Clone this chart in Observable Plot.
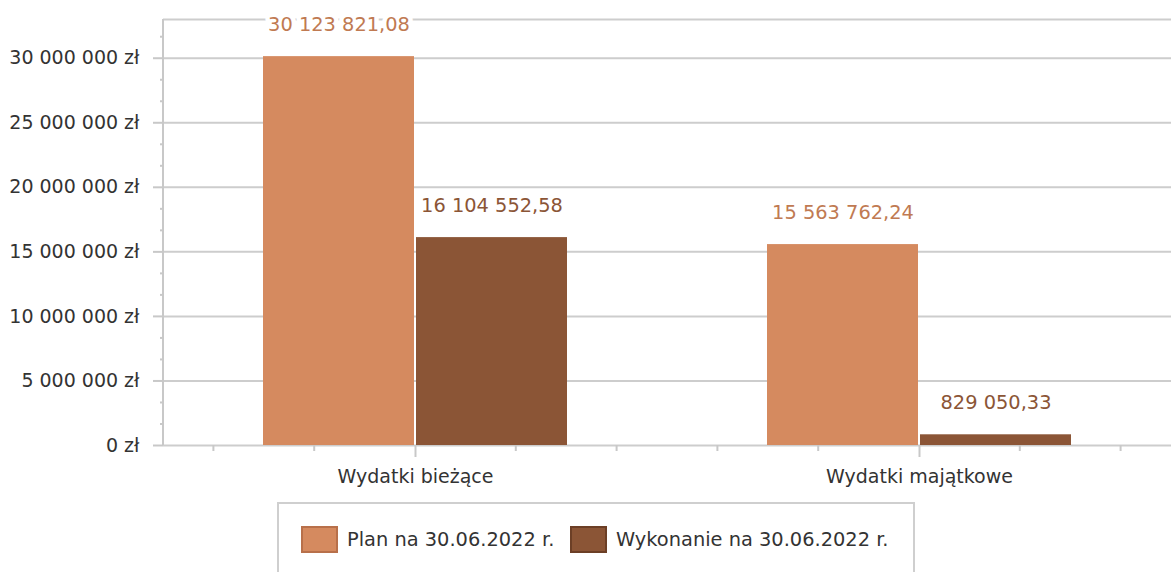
<!DOCTYPE html>
<html>
<head>
<meta charset="utf-8">
<script src="https://cdn.jsdelivr.net/npm/d3@7"></script>
<script src="https://cdn.jsdelivr.net/npm/@observablehq/plot@0.6"></script>
<style>
  html, body { margin: 0; padding: 0; background: #fff; }
  body { width: 1171px; height: 572px; overflow: hidden; position: relative; font-family: "DejaVu Sans", sans-serif; }
  #legend { position: absolute; left: 277px; top: 502px; width: 638px; height: 90px; border: 2px solid #cfcfcf; box-sizing: border-box; }
  .item { position: absolute; top: 22px; display: flex; align-items: center; font-size: 19.4px; color: #333; white-space: nowrap; }
  .sw { width: 33px; height: 23px; border: 2px solid; margin-right: 9px; }
</style>
</head>
<body>
<div id="chart"></div>
<div id="legend"></div>
<script>
const groups = ["Wydatki bieżące", "Wydatki majątkowe"];
const series = ["Plan na 30.06.2022 r.", "Wykonanie na 30.06.2022 r."];
const planValues = [30123821.08, 15563762.24];
const executionValues = [16104552.58, 829050.33];
const yTicks = [0, 5000000, 10000000, 15000000, 20000000, 25000000, 30000000];
const yMax = 33000000;

const barColors = ["#d58a5f", "#8b5536"];
const labelColors = ["#c07a52", "#8b5536"];
const swatchBorders = ["#b8704a", "#6c3f26"];

const data = [];
groups.forEach((g, i) => {
  data.push({group: g, series: series[0], value: planValues[i]});
  data.push({group: g, series: series[1], value: executionValues[i]});
});

const pl = d3.formatLocale({decimal: ",", thousands: "\u00a0", grouping: [3], currency: ["", " zł"]});
const fmtVal = pl.format(",.2f");
const fmtAxis = v => pl.format(",.0f")(v) + " zł";
const minorTicks = d3.range(0, yMax, 5000000 / 3).filter(v => Math.abs(v / 5000000 - Math.round(v / 5000000)) > 1e-6);

const font = "DejaVu Sans, sans-serif";
const W = 1171, H = 500;

const plot = Plot.plot({
  width: W, height: H,
  marginLeft: 163, marginRight: 0, marginTop: 19, marginBottom: 55,
  style: {fontFamily: font, fontSize: "19px", color: "#333", background: "transparent"},
  fx: {domain: groups, padding: 0, axis: null, label: null},
  x: {domain: series, paddingInner: 0.013, paddingOuter: 0.643, axis: null},
  y: {domain: [0, yMax], axis: null},
  color: {domain: series, range: barColors},
  marks: [
    Plot.gridY([...yTicks, yMax], {stroke: "#cdcdcd", strokeOpacity: 1, strokeWidth: 2}),
    Plot.barY(data, {fx: "group", x: "series", y: "value", fill: "series"}),
    Plot.text(data, {filter: d => d.series === series[0], fx: "group", x: "series", y: "value", text: d => fmtVal(d.value), dy: -32, lineAnchor: "middle", fill: labelColors[0], stroke: "white", strokeWidth: 9, paintOrder: "stroke", fontSize: 19.4}),
    Plot.text(data, {filter: d => d.series === series[1], fx: "group", x: "series", y: "value", text: d => fmtVal(d.value), dy: -32, lineAnchor: "middle", fill: labelColors[1], stroke: "white", strokeWidth: 9, paintOrder: "stroke", fontSize: 19.4}),
    Plot.axisY({ticks: yTicks, tickFormat: fmtAxis, tickSize: 10, tickPadding: 14, stroke: "#c8c8c8", strokeWidth: 2, fill: "#333", fontSize: 19, label: null}),
    Plot.axisY({ticks: minorTicks, tickFormat: null, text: null, tickSize: 3, stroke: "#c8c8c8", strokeWidth: 2, label: null}),
    Plot.axisFx({anchor: "bottom", tickSize: 12, tickPadding: 12, stroke: "#c8c8c8", strokeWidth: 2, fill: "#333", fontSize: 19, label: null})
  ]
});

document.getElementById("chart").appendChild(plot);

// axis line and minor x ticks from the plot's scales
const ys = plot.scale("y");
const yScale = d3.scaleLinear(ys.domain, ys.range);
const fxs = plot.scale("fx");
const band = d3.scaleBand(fxs.domain, fxs.range).paddingInner(fxs.paddingInner ?? 0).paddingOuter(fxs.paddingOuter ?? 0);
const svg = d3.select(plot);
const g = svg.append("g").attr("stroke", "#c8c8c8").attr("stroke-width", 2);
const x0 = fxs.range[0];
g.append("line").attr("x1", x0).attr("x2", x0).attr("y1", yScale(yMax)).attr("y2", yScale(0));
groups.forEach(gr => {
  const start = band(gr), bw = band.bandwidth();
  [0.1, 0.3, 0.7, 0.9].forEach(f => {
    g.append("line").attr("x1", start + f * bw).attr("x2", start + f * bw).attr("y1", yScale(0)).attr("y2", yScale(0) + 6);
  });
});

// legend
const legend = document.getElementById("legend");
const lefts = [22, 291];
series.forEach((s, i) => {
  const it = document.createElement("div");
  it.className = "item";
  it.style.left = lefts[i] + "px";
  it.innerHTML = `<span class="sw" style="background:${barColors[i]};border-color:${swatchBorders[i]}"></span><span>${s}</span>`;
  legend.appendChild(it);
});
</script>
</body>
</html>
